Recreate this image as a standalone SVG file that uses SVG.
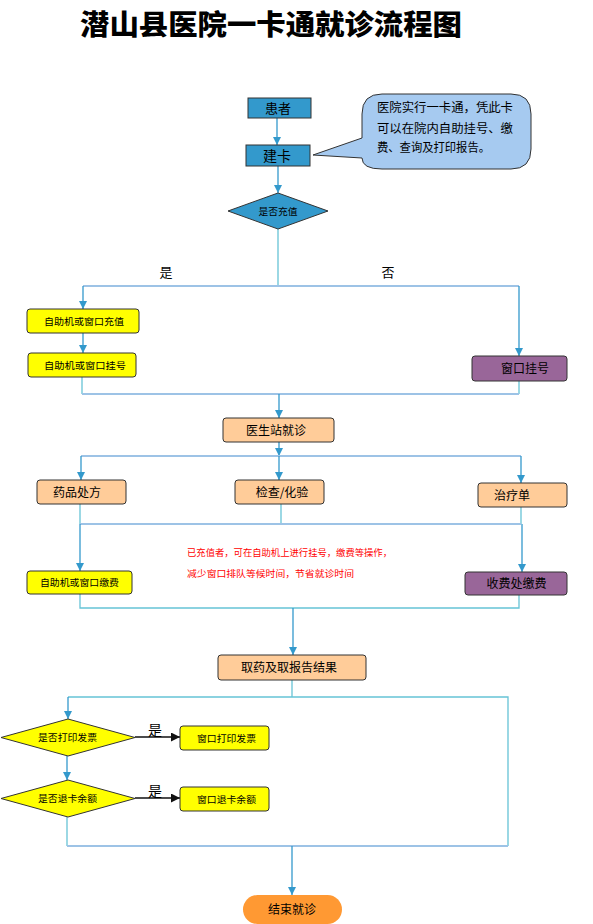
<svg xmlns="http://www.w3.org/2000/svg" width="593" height="924" viewBox="0 0 593 924">
<defs>
<marker id="ab" viewBox="0 0 10 10" refX="10" refY="5" markerWidth="8" markerHeight="8" markerUnits="userSpaceOnUse" orient="auto"><path d="M0,0 L10,5 L0,10 Z" fill="#3399CC"/></marker>
<marker id="ak" viewBox="0 0 10 10" refX="10" refY="5" markerWidth="9" markerHeight="9" markerUnits="userSpaceOnUse" orient="auto"><path d="M0,0 L10,5 L0,10 Z" fill="#111"/></marker>
</defs>
<style>
text{font-family:"Noto Sans CJK SC","Liberation Sans",sans-serif;fill:#000;text-anchor:middle}
.t13{font-size:13px}
.t12{font-size:12px}
.t10{font-size:9.5px}
.blue{fill:#3399CC;stroke:#333;stroke-width:1}
.yel{fill:#FFFF00;stroke:#333;stroke-width:1}
.org{fill:#FFCC99;stroke:#333;stroke-width:1}
.pur{fill:#996699;stroke:#333;stroke-width:1}
.ar{stroke:#3399CC;stroke-width:1.3;fill:none;marker-end:url(#ab)}
.ln{stroke:#66C3D6;stroke-width:1.3;fill:none}
.hz{stroke:#9DC3E6;stroke-width:2;fill:none}
.bk{stroke:#111;stroke-width:1.3;fill:none;marker-end:url(#ak)}
.red{fill:#FF0000;font-size:9px;text-anchor:start}
</style>
<rect width="593" height="924" fill="#fff"/>
<text x="271" y="35" style="font-size:28px;font-weight:900" textLength="382" lengthAdjust="spacingAndGlyphs">潜山县医院一卡通就诊流程图</text>

<g id="connectors">
<path class="ar" d="M277,118 V145"/>
<path class="ar" d="M278,166 V193"/>
<path class="ln" d="M278,229 V286"/>
<path class="hz" d="M83,286 H519"/>
<path class="ar" d="M83,286 V309"/>
<path class="ar" d="M519,286 V356"/>
<path class="ar" d="M83,333 V353"/>
<path class="ln" d="M82,377 V394"/>
<path class="ln" d="M519,381 V394"/>
<path class="hz" d="M82,394 H519"/>
<path class="ar" d="M279,394 V418"/>
<path class="ar" d="M279,442 V456"/>
<path class="hz" d="M81,456 H521"/>
<path class="ar" d="M81,456 V480"/>
<path class="ar" d="M279,456 V480"/>
<path class="ar" d="M521,456 V483"/>
<path class="ln" d="M80,504 V524"/>
<path class="ln" d="M281,504 V524"/>
<path class="ln" d="M521,507 V524"/>
<path class="hz" d="M80,524 H521"/>
<path class="ar" d="M80,524 V571"/>
<path class="ar" d="M522,524 V572"/>
<path class="ln" d="M80,594 V608 H519 V595"/>
<path class="ar" d="M293,608 V655"/>
<path class="ln" d="M292,680 V697"/>
<path class="ln" d="M68,697 H508 V846"/>
<path class="ar" d="M68,697 V719"/>
<path class="bk" d="M135,737 H180"/>
<path class="ar" d="M67,756 V780"/>
<path class="bk" d="M135,798 H180"/>
<path class="ln" d="M67,817 V846"/>
<path class="hz" d="M67,846 H508"/>
<path class="ar" d="M292,846 V895"/>
<text x="166" y="277" class="t13">是</text>
<text x="388" y="277" class="t13">否</text>
<text x="155" y="735" style="font-size:14px">是</text>
<text x="155" y="796" style="font-size:14px">是</text>
</g>

<g id="n-patient"><rect class="blue" x="248" y="98" width="63" height="20"/><text x="278" y="113" class="t13">患者</text></g>
<g id="n-card"><rect class="blue" x="246" y="145" width="64" height="21"/><text x="277" y="160.5" style="font-size:14px">建卡</text></g>
<g id="n-callout">
<path d="M382,94 H511 Q531,94 531,114 V149 Q531,169 511,169 H382 Q362,169 362,158 L313,155 L362,138 V114 Q362,94 382,94 Z" fill="#A6CAF0" stroke="#333" stroke-width="1"/>
<text x="377" y="112" class="t12" style="text-anchor:start" textLength="136" lengthAdjust="spacingAndGlyphs">医院实行一卡通，凭此卡</text>
<text x="377" y="133" class="t12" style="text-anchor:start" textLength="136" lengthAdjust="spacingAndGlyphs">可以在院内自助挂号、缴</text>
<text x="377" y="152" class="t12" style="text-anchor:start" textLength="113" lengthAdjust="spacingAndGlyphs">费、查询及打印报告。</text>
</g>
<g id="n-recharge-q"><polygon class="blue" points="278,193 328,211 278,229 228,211"/><text x="278" y="214.5" class="t10" textLength="39" lengthAdjust="spacingAndGlyphs">是否充值</text></g>
<g id="n-recharge"><rect class="yel" x="27" y="309" width="112" height="24" rx="3"/><text x="84" y="324.5" class="t10" textLength="80" lengthAdjust="spacingAndGlyphs">自助机或窗口充值</text></g>
<g id="n-register"><rect class="yel" x="28" y="353" width="108" height="24" rx="3"/><text x="85" y="368.5" class="t10" textLength="82" lengthAdjust="spacingAndGlyphs">自助机或窗口挂号</text></g>
<g id="n-win-register"><rect class="pur" x="472" y="356" width="95" height="25" rx="3"/><text x="525" y="372.5" class="t12">窗口挂号</text></g>
<g id="n-doctor"><rect class="org" x="223" y="418" width="111" height="24" rx="3"/><text x="276" y="434.5" class="t12">医生站就诊</text></g>
<g id="n-rx"><rect class="org" x="37" y="480" width="89" height="24" rx="3"/><text x="77" y="496.5" class="t12">药品处方</text></g>
<g id="n-exam"><rect class="org" x="235" y="480" width="89" height="24" rx="3"/><text x="282" y="496.5" class="t12">检查/化验</text></g>
<g id="n-treat"><rect class="org" x="478" y="483" width="89" height="24" rx="3"/><text x="512" y="499.5" class="t12">治疗单</text></g>
<g id="n-note">
<text x="187" y="556" class="red" textLength="205" lengthAdjust="spacingAndGlyphs">已充值者，可在自助机上进行挂号，缴费等操作，</text>
<text x="187" y="577" class="red" textLength="167" lengthAdjust="spacingAndGlyphs">减少窗口排队等候时间，节省就诊时间</text>
</g>
<g id="n-pay"><rect class="yel" x="27" y="571" width="105" height="23" rx="3"/><text x="79.5" y="586" class="t10" textLength="79" lengthAdjust="spacingAndGlyphs">自助机或窗口缴费</text></g>
<g id="n-cashier"><rect class="pur" x="465" y="572" width="102" height="23" rx="3"/><text x="516.5" y="587.5" class="t12">收费处缴费</text></g>
<g id="n-pickup"><rect class="org" x="218" y="655" width="148" height="25" rx="3"/><text x="289" y="671.5" class="t12">取药及取报告结果</text></g>
<g id="n-invoice-q"><polygon class="yel" points="68,719 135,737.5 68,756 1,737.5"/><text x="67.5" y="741" class="t10" textLength="59" lengthAdjust="spacingAndGlyphs">是否打印发票</text></g>
<g id="n-invoice"><rect class="yel" x="180" y="726" width="89" height="24" rx="3"/><text x="226.5" y="741.5" class="t10" textLength="59" lengthAdjust="spacingAndGlyphs">窗口打印发票</text></g>
<g id="n-refund-q"><polygon class="yel" points="68,780 135,798.5 68,817 1,798.5"/><text x="67.5" y="802" class="t10" textLength="59" lengthAdjust="spacingAndGlyphs">是否退卡余额</text></g>
<g id="n-refund"><rect class="yel" x="180" y="787" width="89" height="24" rx="3"/><text x="226.5" y="802.5" class="t10" textLength="59" lengthAdjust="spacingAndGlyphs">窗口退卡余额</text></g>
<g id="n-end"><rect x="243" y="895" width="99" height="29" rx="14.5" fill="#FF9933"/><text x="292" y="914" class="t12">结束就诊</text></g>
</svg>
